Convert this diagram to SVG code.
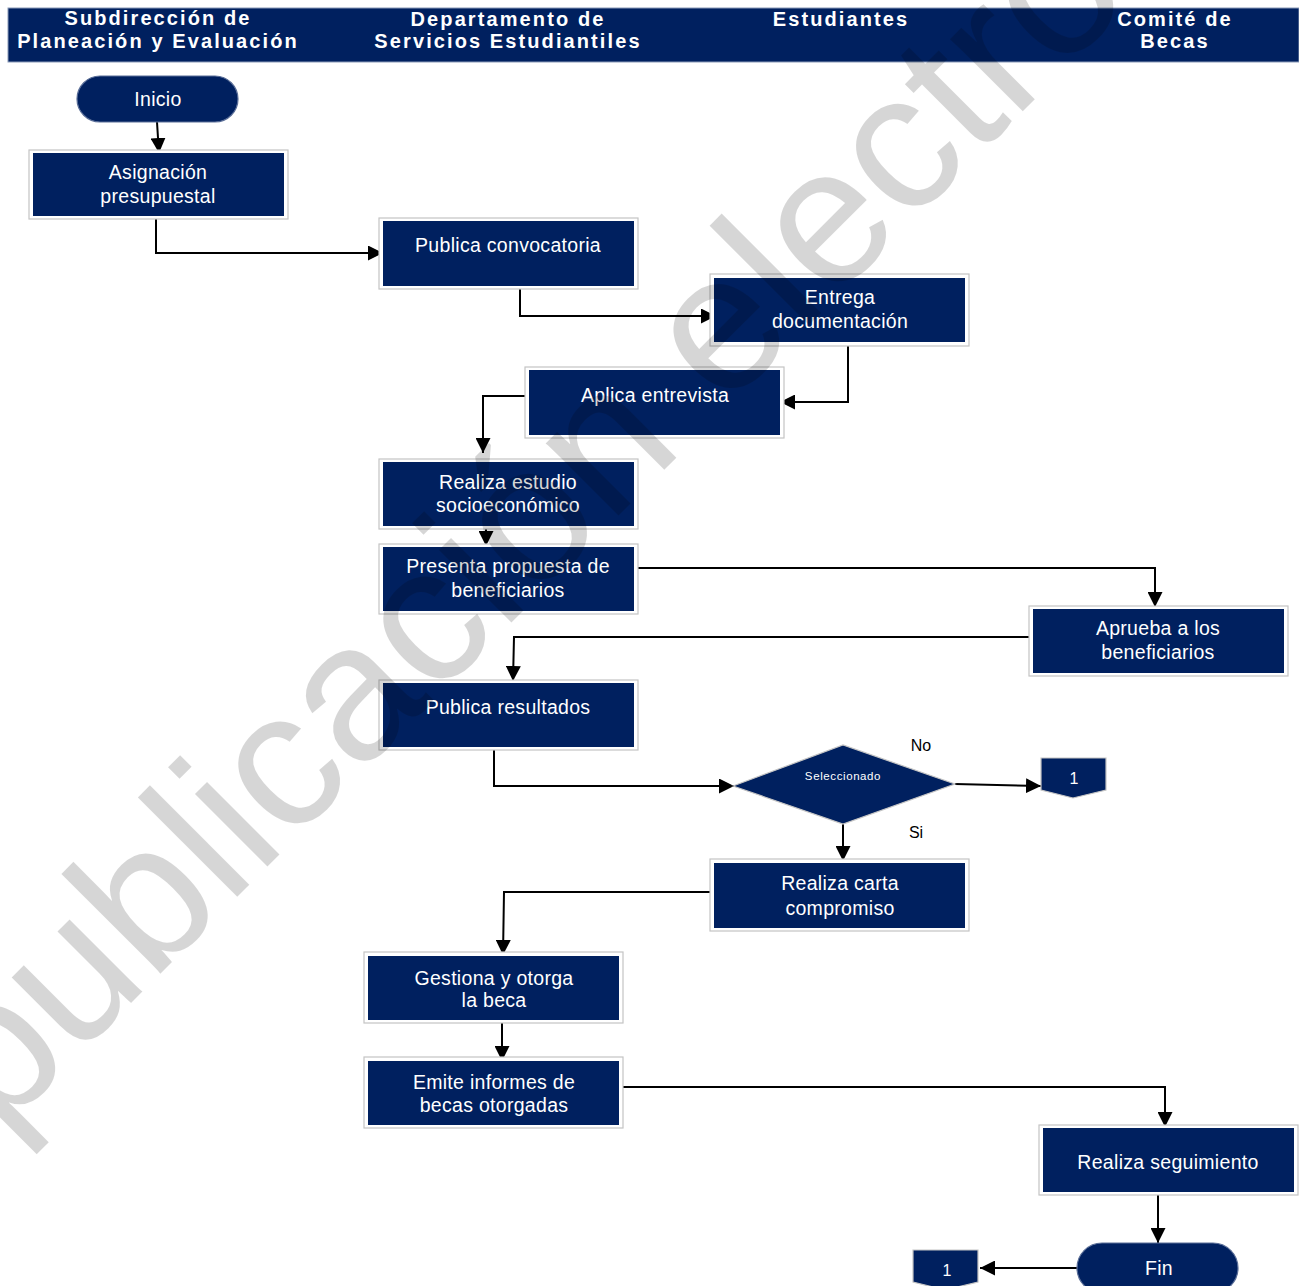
<svg xmlns="http://www.w3.org/2000/svg" width="1299" height="1286" viewBox="0 0 1299 1286">
<style>
.hdr{fill:#fff;font-family:"Liberation Sans",Arial,sans-serif;font-weight:bold;font-size:20px;letter-spacing:2.1px;text-anchor:middle}
.ob{fill:#fff;stroke:#c4c4c4;stroke-width:1.2}
.nv{fill:#00205f}
.t{fill:#fff;font-family:"Liberation Sans",Arial,sans-serif;font-size:19.5px;letter-spacing:0.3px;text-anchor:middle}
.lbl{fill:#000;font-family:"Liberation Sans",Arial,sans-serif;font-size:16px;text-anchor:middle}
.c{fill:none;stroke:#000;stroke-width:2}
.wm{fill:#000;fill-opacity:0.16;font-family:"Liberation Sans",Arial,sans-serif;font-size:194px}
</style>
<defs>
<marker id="a" viewBox="0 0 12 12" refX="12" refY="6" markerWidth="15" markerHeight="15" markerUnits="userSpaceOnUse" orient="auto">
<path d="M0,0 L12,6 L0,12 z" fill="#000"/>
</marker>
</defs>
<rect width="1299" height="1286" fill="#fff"/>
<g id="header">
<rect x="8" y="8" width="1291" height="54" fill="#00205f" stroke="#8a9ab8" stroke-width="1"/>
<text class="hdr" x="158" y="25">Subdirección de</text>
<text class="hdr" x="158" y="48">Planeación y Evaluación</text>
<text class="hdr" x="508" y="26">Departamento de</text>
<text class="hdr" x="508" y="48">Servicios Estudiantiles</text>
<text class="hdr" x="841" y="26">Estudiantes</text>
<text class="hdr" x="1175" y="26">Comité de</text>
<text class="hdr" x="1175" y="48">Becas</text>
</g>
<g id="connectors">
<path class="c" marker-end="url(#a)" d="M157,122 L159,153"/>
<path class="c" marker-end="url(#a)" d="M156,216 L156,253 L383,253"/>
<path class="c" marker-end="url(#a)" d="M512,284 L520,284 L520,316 L716,316"/>
<path class="c" marker-end="url(#a)" d="M848,342 L848,402 L780,402"/>
<path class="c" marker-end="url(#a)" d="M529,396 L483,396 L483,453"/>
<path class="c" marker-end="url(#a)" d="M486,526 L486,546"/>
<path class="c" marker-end="url(#a)" d="M638,568 L1155,568 L1155,607"/>
<path class="c" marker-end="url(#a)" d="M1029,637 L514,637 L513,681"/>
<path class="c" marker-end="url(#a)" d="M494,750 L494,786 L734,786"/>
<path class="c" marker-end="url(#a)" d="M955,784 L1041,786"/>
<path class="c" marker-end="url(#a)" d="M843,824 L843,861"/>
<path class="c" marker-end="url(#a)" d="M710,892 L504,892 L503,955"/>
<path class="c" marker-end="url(#a)" d="M502,1023 L502,1061"/>
<path class="c" marker-end="url(#a)" d="M623,1087 L1165,1087 L1165,1127"/>
<path class="c" marker-end="url(#a)" d="M1158,1195 L1158,1243"/>
<path class="c" marker-end="url(#a)" d="M1077,1268 L980,1268"/>
</g>
<g id="inicio">
<rect x="77" y="76" width="161" height="46" rx="23" fill="#00205f" stroke="#5a6e98" stroke-width="1.2"/>
<text class="t" x="158" y="106">Inicio</text>
</g>
<g id="asignacion">
<rect class="ob" x="29" y="150" width="259" height="69"/>
<rect class="nv" x="33" y="153" width="251" height="63"/>
<text class="t" x="158" y="179">Asignación</text>
<text class="t" x="158" y="203">presupuestal</text>
</g>
<g id="publica-convocatoria">
<rect class="ob" x="379" y="218" width="259" height="71"/>
<rect class="nv" x="383" y="221" width="251" height="65"/>
<text class="t" x="508" y="252">Publica convocatoria</text>
</g>
<g id="entrega">
<rect class="ob" x="710" y="274" width="259" height="72"/>
<rect class="nv" x="714" y="278" width="251" height="64"/>
<text class="t" x="840" y="304">Entrega</text>
<text class="t" x="840" y="328">documentación</text>
</g>
<g id="aplica">
<rect class="ob" x="525" y="367" width="259" height="71"/>
<rect class="nv" x="529" y="370" width="251" height="65"/>
<text class="t" x="655" y="402">Aplica entrevista</text>
</g>
<g id="estudio">
<rect class="ob" x="379" y="459" width="259" height="70"/>
<rect class="nv" x="383" y="462" width="251" height="64"/>
<text class="t" x="508" y="489">Realiza estudio</text>
<text class="t" x="508" y="512">socioeconómico</text>
</g>
<g id="propuesta">
<rect class="ob" x="379" y="544" width="259" height="70"/>
<rect class="nv" x="383" y="547" width="251" height="64"/>
<text class="t" x="508" y="573">Presenta propuesta de</text>
<text class="t" x="508" y="597">beneficiarios</text>
</g>
<g id="aprueba">
<rect class="ob" x="1029" y="606" width="259" height="70"/>
<rect class="nv" x="1033" y="609" width="251" height="64"/>
<text class="t" x="1158" y="635">Aprueba a los</text>
<text class="t" x="1158" y="659">beneficiarios</text>
</g>
<g id="publica-resultados">
<rect class="ob" x="379" y="680" width="259" height="70"/>
<rect class="nv" x="383" y="683" width="251" height="64"/>
<text class="t" x="508" y="714">Publica resultados</text>
</g>
<g id="seleccionado">
<polygon points="733,786 843,745 955,784 843,824" fill="#00205f" stroke="#c4c4c4" stroke-width="1.2"/>
<text x="843" y="780" fill="#fff" font-family="'Liberation Sans',Arial,sans-serif" font-size="11.5px" letter-spacing="0.6" text-anchor="middle">Seleccionado</text>
<text class="lbl" x="921" y="751">No</text>
<text class="lbl" x="916" y="838">Si</text>
</g>
<g id="conector-1a">
<polygon points="1041,758 1106,758 1106,790 1073,798 1041,790" fill="#00205f" stroke="#c4c4c4" stroke-width="1.2"/>
<text x="1074" y="784" fill="#fff" font-family="'Liberation Sans',Arial,sans-serif" font-size="16px" text-anchor="middle">1</text>
</g>
<g id="carta">
<rect class="ob" x="710" y="859" width="259" height="72"/>
<rect class="nv" x="714" y="863" width="251" height="65"/>
<text class="t" x="840" y="890">Realiza carta</text>
<text class="t" x="840" y="915">compromiso</text>
</g>
<g id="gestiona">
<rect class="ob" x="364" y="952" width="259" height="71"/>
<rect class="nv" x="368" y="956" width="251" height="64"/>
<text class="t" x="494" y="985">Gestiona y otorga</text>
<text class="t" x="494" y="1007">la beca</text>
</g>
<g id="emite">
<rect class="ob" x="364" y="1057" width="259" height="71"/>
<rect class="nv" x="368" y="1061" width="251" height="64"/>
<text class="t" x="494" y="1089">Emite informes de</text>
<text class="t" x="494" y="1112">becas otorgadas</text>
</g>
<g id="seguimiento">
<rect class="ob" x="1039" y="1125" width="259" height="70"/>
<rect class="nv" x="1043" y="1128" width="251" height="64"/>
<text class="t" x="1168" y="1169">Realiza seguimiento</text>
</g>
<g id="fin">
<rect x="1077" y="1243" width="161" height="50" rx="25" fill="#00205f" stroke="#5a6e98" stroke-width="1.2"/>
<text class="t" x="1159" y="1275">Fin</text>
</g>
<g id="conector-1b">
<polygon points="913,1250 978,1250 978,1282 945,1290 913,1282" fill="#00205f" stroke="#c4c4c4" stroke-width="1.2"/>
<text x="947" y="1276" fill="#fff" font-family="'Liberation Sans',Arial,sans-serif" font-size="16px" text-anchor="middle">1</text>
</g>
<text class="wm" transform="translate(-1,1135) rotate(-45)">publicación electrónica</text>
</svg>
